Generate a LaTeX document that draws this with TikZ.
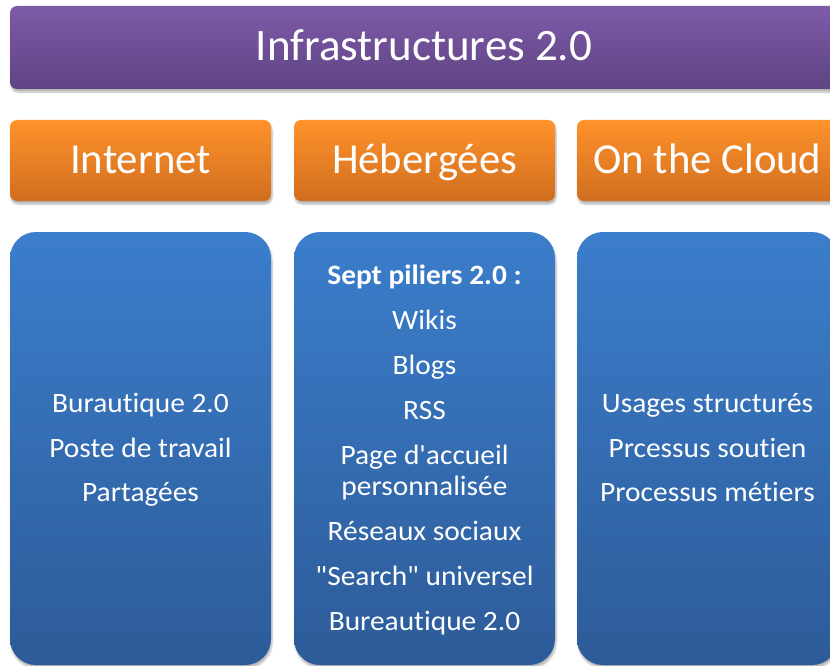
\documentclass[tikz,border=0pt]{standalone}
\usepackage{fontspec}
\setmainfont{Carlito}[Ligatures={TeXOff,NoCommon}]
\newfontfamily\listfont{Carlito}[Ligatures={TeXOff,NoCommon}, FakeStretch=1.05]
\usetikzlibrary{shadows.blur}
\definecolor{purpleTop}{HTML}{7D5BA8}
\definecolor{purpleBot}{HTML}{5F4383}
\definecolor{orangeTop}{HTML}{FF922A}
\definecolor{orangeBot}{HTML}{D06E1F}
\definecolor{blueTop}{HTML}{3B7ECC}
\definecolor{blueBot}{HTML}{2D5B98}
\begin{document}
\begin{tikzpicture}[x=1pt,y=-1pt,
  box/.style={rectangle, inner sep=0pt, text=white, align=center,
    blur shadow={shadow xshift=1pt, shadow yshift=-3pt, shadow blur steps=6, shadow opacity=30}},
  titlebox/.style={box, rounded corners=7pt, top color=purpleTop, bottom color=purpleBot,
    minimum width=828pt, minimum height=83pt, text height=27pt, text depth=0pt,
    font=\fontsize{45}{54}\selectfont},
  headbox/.style={box, rounded corners=7pt, top color=orangeTop, bottom color=orangeBot,
    minimum width=261pt, minimum height=81pt, text height=25pt, text depth=0pt,
    font=\fontsize{42.7}{50}\selectfont},
  listbox/.style={box, rounded corners=26pt, top color=blueTop, bottom color=blueBot,
    minimum width=261pt, minimum height=433pt},
  entry/.style={anchor=base, inner sep=0pt, text=white, font=\listfont\fontsize{28}{31}\selectfont}
]
\useasboundingbox (0,0) rectangle (830,666);

% banner
\node[titlebox] (title) at (424,47.5) {Infrastructures 2.0};

% column headers
\node[headbox] (internet) at (140.5,160.5) {Internet};
\node[headbox] (hebergees) at (424.5,160.5) {Hébergées};
\node[headbox] (cloud) at (707.5,160.5) {On the Cloud};

% column panels
\node[listbox] (listA) at (140.5,448.5) {};
\node[listbox] (listB) at (424.5,448.5) {};
\node[listbox] (listC) at (707.5,448.5) {};

% first column
\node[entry] (a1) at (140.5,412) {Burautique 2.0};
\node[entry] (a2) at (140.5,457) {Poste de travail};
\node[entry] (a3) at (140.5,501.5) {Partagées};

% second column
\node[entry, font=\listfont\fontsize{28}{31}\selectfont\bfseries] (b0) at (424.5,284) {Sept piliers 2.0 :};
\node[entry] (b1) at (424.5,329.5) {Wikis};
\node[entry] (b2) at (424.5,374.5) {Blogs};
\node[entry] (b3) at (424.5,419) {RSS};
\node[entry] (b4) at (424.5,464) {Page d'accueil};
\node[entry] (b4b) at (424.5,495) {personnalisée};
\node[entry] (b5) at (424.5,540) {Réseaux sociaux};
\node[entry] (b6) at (424.5,585) {"Search" universel};
\node[entry] (b7) at (424.5,630) {Bureautique 2.0};

% third column
\node[entry] (c1) at (707.5,412) {Usages structurés};
\node[entry] (c2) at (707.5,457) {Prcessus soutien};
\node[entry] (c3) at (707.5,501.5) {Processus métiers};
\end{tikzpicture}
\end{document}
